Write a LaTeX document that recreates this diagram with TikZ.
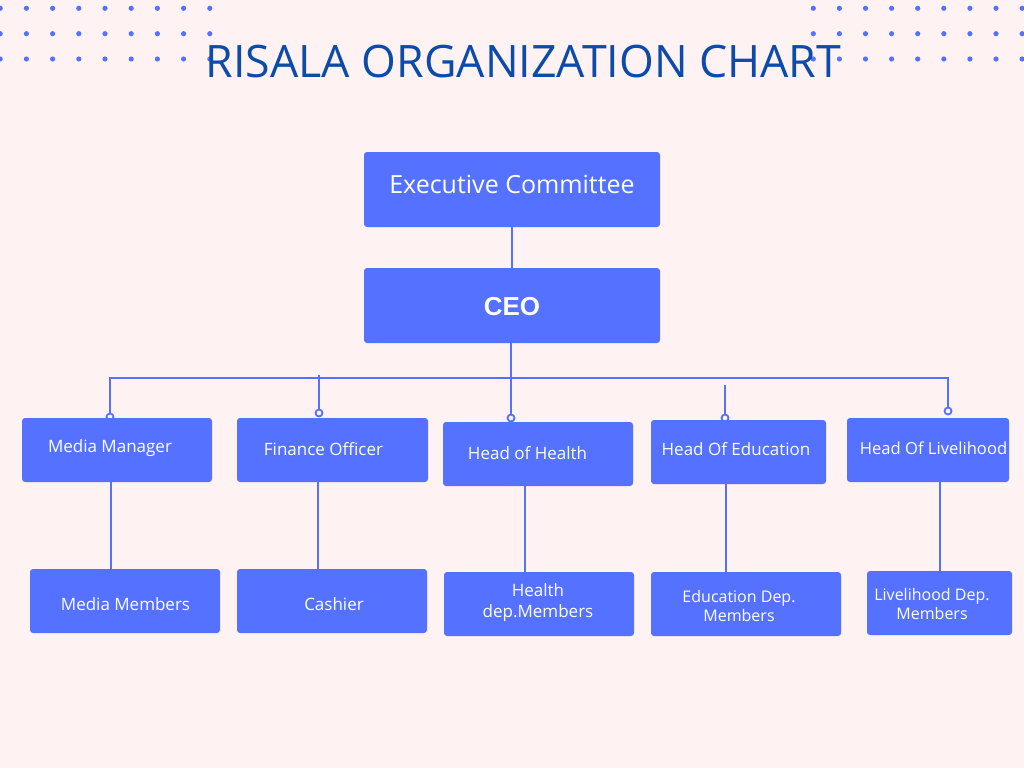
\documentclass[tikz,border=0pt]{standalone}
\usepackage{fontspec}
\setmainfont{Open Sans}
\newfontfamily\ceofont{Liberation Sans}
\definecolor{bg}{HTML}{FFF2F2}
\definecolor{boxc}{HTML}{5472FF}
\definecolor{titlec}{HTML}{0C4BAA}
\begin{document}
\begin{tikzpicture}[x=1pt,y=-1pt,
  box/.style={fill=boxc, rounded corners=3pt, draw=none, inner sep=0pt},
  lbl/.style={text=white, font=\fontsize{17}{20}\selectfont, inner sep=0pt, align=center},
  conn/.style={draw=boxc, line width=2pt},
  knob/.style={circle, draw=boxc, fill=bg, line width=1.8pt, minimum size=7pt, inner sep=0pt},
  dotm/.style={circle, fill=boxc, minimum size=5.2pt, inner sep=0pt}]
\useasboundingbox (0,0) rectangle (1024,768);
\fill[bg] (0,0) rectangle (1024,768);
% dots
\foreach \i in {0,...,8} {
  \foreach \y [count=\j] in {8.3,33.7,59} {
    \node[dotm] (dl-\i-\j) at ({0.2+26.2*\i},\y) {};
    \node[dotm] (dr-\i-\j) at ({813.3+26.1*\i},\y) {};
  }
}
% title
\node[text=titlec, font=\fontsize{44.7}{50}\selectfont, inner sep=0pt] (title) at (523.5,62) {RISALA ORGANIZATION CHART};
% top boxes
\node[box, minimum width=296pt, minimum height=75pt] (exec) at (512,189.5) {};
\node[box, minimum width=296pt, minimum height=75pt] (ceo) at (512,305.5) {};
\node[lbl, font=\fontsize{25}{30}\selectfont] (exec-t) at (512,184) {Executive Committee};
\node[lbl, font=\ceofont\bfseries\fontsize{26}{30}\selectfont] (ceo-t) at (512,307) {CEO};
\draw[conn] (exec.south) -- (ceo.north);
% knobs and bus
\node[knob] (k1) at (110,417) {};
\node[knob] (k2) at (319,413) {};
\node[knob] (k3) at (511,418) {};
\node[knob] (k4) at (725,418) {};
\node[knob] (k5) at (948,411) {};
\coordinate (bl) at (110,378);
\coordinate (br) at (948,378);
\coordinate (ft) at (319,375);
\coordinate (et) at (725,385);
\draw[conn] (k1) -- (bl) -- (br) -- (k5);
\draw[conn] (ceo.south -| k3) -- (k3);
\draw[conn] (ft) -- (k2);
\draw[conn] (et) -- (k4);
% level 2
\node[box, minimum width=190pt, minimum height=64pt] (mm) at (117,450) {};
\node[box, minimum width=191pt, minimum height=64pt] (fo) at (332.5,450) {};
\node[box, minimum width=190pt, minimum height=64pt] (hh) at (538,454) {};
\node[box, minimum width=175pt, minimum height=64pt] (he) at (738.5,452) {};
\node[box, minimum width=162pt, minimum height=64pt] (hl) at (928,450) {};
\node[lbl] (mm-t) at (110,448) {Media Manager};
\node[lbl] (fo-t) at (323.5,449) {Finance Officer};
\node[lbl] (hh-t) at (527.5,453) {Head of Health};
\node[lbl] (he-t) at (736,449) {Head Of Education};
\node[lbl, font=\fontsize{16.6}{20}\selectfont] (hl-t) at (933.5,448) {Head Of Livelihood};
% level 3
\node[box, minimum width=190pt, minimum height=64pt] (mem) at (125,601) {};
\node[box, minimum width=190pt, minimum height=64pt] (cas) at (332,601) {};
\node[box, minimum width=190pt, minimum height=64pt] (hdm) at (539,604) {};
\node[box, minimum width=190pt, minimum height=64pt] (edm) at (746,604) {};
\node[box, minimum width=145pt, minimum height=64pt] (ldm) at (939.5,603) {};
\node[lbl] (mem-t) at (125.5,604) {Media Members};
\node[lbl] (cas-t) at (334,604) {Cashier};
\node[lbl, font=\fontsize{17}{21}\selectfont] (hdm-t) at (538,602.5) {Health\\dep.Members};
\node[lbl, font=\fontsize{16}{19}\selectfont] (edm-t) at (739,605.5) {Education Dep.\\Members};
\node[lbl, font=\fontsize{16}{19}\selectfont] (ldm-t) at (932,603.5) {Livelihood Dep.\\Members};
% level 2 -> 3
\coordinate (x1) at (111,0);
\coordinate (x2) at (318,0);
\coordinate (x3) at (525,0);
\coordinate (x4) at (726,0);
\coordinate (x5) at (940,0);
\draw[conn] (mm.south -| x1) -- (mem.north -| x1);
\draw[conn] (fo.south -| x2) -- (cas.north -| x2);
\draw[conn] (hh.south -| x3) -- (hdm.north -| x3);
\draw[conn] (he.south -| x4) -- (edm.north -| x4);
\draw[conn] (hl.south -| x5) -- (ldm.north -| x5);
\end{tikzpicture}
\end{document}
